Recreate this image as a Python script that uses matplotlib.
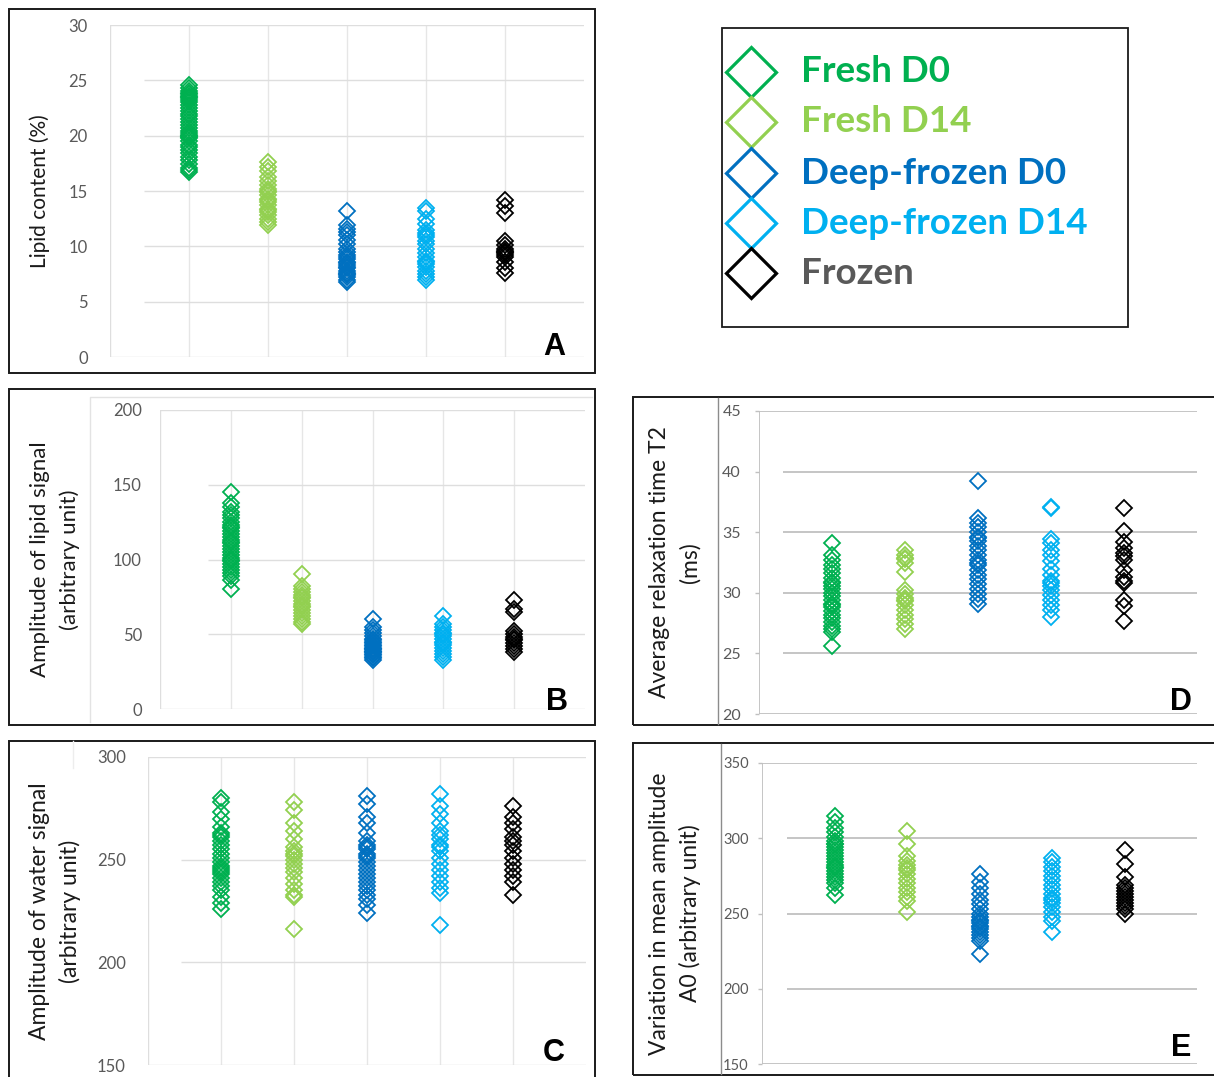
import numpy as np
import matplotlib
matplotlib.use('Agg')
import matplotlib.pyplot as plt
from matplotlib.patches import Rectangle
from matplotlib.lines import Line2D

plt.rcParams['font.family'] = ['Lato', 'DejaVu Sans']

W, H = 1214, 1077

# ------------------------------------------------------------
# DATA
# ------------------------------------------------------------
groups = ["Fresh D0", "Fresh D14", "Deep-frozen D0", "Deep-frozen D14", "Frozen"]
marker_colors = ["#00B050", "#92D050", "#0070C0", "#00B0F0", "#000000"]
text_colors = ["#00B050", "#92D050", "#0070C0", "#00B0F0", "#595959"]

# A - lipid content (%)
lipid_fresh_d0 = [24.6, 24.3, 24.0, 23.8, 23.6, 23.4, 23.2, 23.0, 22.8, 22.5, 22.2, 22.0,
                  21.8, 21.5, 21.2, 21.0, 20.7, 20.4, 20.2, 20.0, 19.8, 19.5, 19.2, 19.0,
                  18.7, 18.4, 18.1, 17.8, 17.4, 17.1, 16.9, 16.7, 23.5, 23.9, 20.1, 19.9]
lipid_fresh_d14 = [17.6, 17.2, 16.8, 16.3, 15.9, 15.5, 15.2, 14.9, 14.6, 14.3, 14.0, 13.7,
                   13.4, 13.1, 12.8, 12.5, 12.2, 11.9, 15.0, 14.2, 13.3]
lipid_deep_d0 = [13.2, 11.9, 11.6, 11.3, 11.0, 10.6, 10.2, 9.8, 9.5, 9.2, 8.9, 8.6, 8.3,
                 8.0, 7.8, 7.6, 7.4, 7.2, 7.0, 6.8, 8.1, 8.5, 9.0, 7.5]
lipid_deep_d14 = [13.5, 13.2, 12.5, 12.0, 11.5, 11.2, 10.8, 10.5, 10.2, 9.8, 9.4, 9.0,
                  8.7, 8.4, 8.1, 7.8, 7.5, 7.2, 7.0, 11.0, 8.6]
lipid_frozen = [14.2, 13.6, 13.0, 10.5, 10.1, 9.8, 9.6, 9.4, 9.2, 9.0, 8.6, 8.0, 7.6, 9.5]

# B - amplitude of lipid signal
amp_fresh_d0 = [145, 138, 135, 132, 130, 128, 125, 123, 121, 119, 117, 115, 113, 111, 109,
                107, 105, 103, 101, 99, 97, 95, 93, 91, 89, 86, 80, 122, 112, 100]
amp_fresh_d14 = [90, 82, 80, 78, 76, 74, 72, 70, 68, 66, 64, 62, 60, 58, 57, 75, 69]
amp_deep_d0 = [60, 55, 53, 51, 49, 47, 45, 44, 43, 42, 41, 40, 39, 38, 37, 36, 35, 34, 33,
               46, 40, 38]
amp_deep_d14 = [62, 57, 55, 53, 51, 49, 47, 45, 43, 41, 39, 37, 35, 33, 50, 44]
amp_frozen = [73, 67, 65, 52, 50, 48, 46, 44, 42, 40, 38, 47]

# C - amplitude of water signal
water_fresh_d0 = [280, 278, 273, 270, 266, 263, 261, 259, 257, 255, 253, 251, 249, 247,
                  245, 243, 241, 239, 237, 235, 232, 229, 226, 262, 246, 244]
water_fresh_d14 = [278, 274, 268, 264, 260, 256, 254, 252, 250, 248, 246, 244, 241, 238,
                   235, 232, 216, 253, 233]
water_deep_d0 = [281, 277, 271, 268, 263, 259, 257, 255, 253, 251, 249, 247, 245, 243,
                 241, 239, 237, 235, 233, 231, 228, 224, 256, 252]
water_deep_d14 = [282, 276, 272, 268, 264, 260, 257, 254, 251, 248, 245, 242, 239, 236,
                  234, 218, 256, 262]
water_frozen = [276, 271, 268, 265, 261, 259, 257, 254, 251, 248, 245, 242, 239, 233]

# D - average relaxation time T2 (ms)
t2_fresh_d0 = [34.1, 33.1, 32.7, 32.3, 32.0, 31.6, 31.2, 30.9, 30.6, 30.3, 30.0, 29.7,
               29.4, 29.1, 28.8, 28.5, 28.2, 27.9, 27.6, 27.3, 27.0, 26.8, 25.6, 30.8, 29.0]
t2_fresh_d14 = [33.5, 33.1, 32.8, 32.5, 31.7, 30.2, 29.9, 29.6, 29.3, 29.0, 28.6, 28.2,
                27.8, 27.4, 27.0, 32.9, 29.4]
t2_deep_d0 = [39.2, 36.2, 35.8, 35.4, 35.0, 34.6, 34.3, 33.9, 33.5, 33.1, 32.7, 32.3,
              31.9, 31.5, 31.1, 30.7, 30.3, 29.9, 29.5, 29.1, 34.5, 32.5]
t2_deep_d14 = [37.1, 37.0, 34.4, 34.1, 33.5, 33.1, 32.6, 32.0, 31.5, 31.0, 30.6, 30.2,
               29.8, 29.4, 29.0, 28.6, 28.0, 30.8]
t2_frozen = [37.0, 35.1, 34.2, 33.7, 33.3, 33.0, 32.7, 31.9, 31.3, 31.0, 30.8, 29.4, 28.9, 27.7]

# E - variation in mean amplitude A0
a0_fresh_d0 = [315, 311, 307, 304, 301, 298, 296, 294, 292, 290, 288, 286, 284, 282, 280,
               278, 276, 274, 272, 270, 267, 262, 296, 281]
a0_fresh_d14 = [305, 296, 288, 285, 282, 279, 276, 273, 270, 267, 264, 261, 258, 251, 280]
a0_deep_d0 = [276, 271, 267, 263, 259, 256, 253, 250, 248, 246, 244, 242, 240, 238, 236,
              234, 232, 223, 245, 241]
a0_deep_d14 = [287, 284, 281, 278, 275, 272, 269, 266, 263, 260, 257, 254, 251, 248, 245,
               238, 259]
a0_frozen = [292, 283, 274, 269, 267, 265, 263, 261, 259, 257, 255, 253, 250]

ticks_a = [0, 5, 10, 15, 20, 25, 30]
ticks_b = [0, 50, 100, 150, 200]
ticks_c = [150, 200, 250, 300]
ticks_d = [20, 25, 30, 35, 40, 45]
ticks_e = [150, 200, 250, 300, 350]


# ============================================================
# HELPERS
# ============================================================
def box(l, t, r, b):
    return [l / W, 1 - b / H, (r - l) / W, (b - t) / H]


def fx(x):
    return x / W


def fy(y):
    return 1 - y / H


def frame(fig, l, t, r, b, color="#1a1a1a", lw=1.4):
    fig.patches.append(Rectangle((fx(l), fy(b)), (r - l) / W, (b - t) / H, fill=False,
                                 edgecolor=color, linewidth=lw, transform=fig.transFigure))


def fline(fig, xs, ys, color, lw=1.0):
    fig.add_artist(Line2D([fx(x) for x in xs], [fy(y) for y in ys], color=color,
                          linewidth=lw, transform=fig.transFigure))


def panel(fig, rect, data, ticks, grid_start, style, ylabel, label_x, letter, letter_xy,
          pad=12, fs=12, lfs=14.5):
    ax = fig.add_axes(box(*rect))
    ax.set_xlim(0, 6)
    ax.set_ylim(ticks[0], ticks[-1])
    for s in ax.spines.values():
        s.set_visible(False)
    ax.set_facecolor("none")

    if style == "light":
        gcol, glw = "#DEDEDE", 1.0
        for xc in range(1, 6):
            ax.axvline(xc, color="#E6E6E6", lw=1.0, zorder=0)
        ax.axvline(0, color=gcol, lw=glw, zorder=0)
        ax.tick_params(axis='y', length=0, pad=pad)
    else:
        gcol, glw = "#C0C0C0", 1.3
        ax.axvline(0, color=gcol, lw=glw, zorder=0)
        ax.tick_params(axis='y', length=3, width=1, color=gcol, pad=pad - 3)

    for k, tv in enumerate(ticks):
        start = 0 if k in (0, len(ticks) - 1) else grid_start
        ax.hlines(tv, start, 6, color=gcol, lw=glw, zorder=0)

    for i, vals in enumerate(data):
        ax.plot(np.full(len(vals), i + 1), vals, 'D', mfc='none', mec=marker_colors[i],
                ms=8, mew=1.3, zorder=3, clip_on=False)

    ax.set_xticks([])
    ax.set_yticks(ticks)
    ax.set_yticklabels([str(t) for t in ticks], fontsize=fs, color="#595959")

    for text, x in zip(ylabel, label_x):
        fig.text(fx(x), fy((rect[1] + rect[3]) / 2), text, rotation=90, ha='center',
                 va='center', fontsize=lfs, color="#1a1a1a")

    fig.text(fx(letter_xy[0]), fy(letter_xy[1]), letter, fontsize=22, fontweight='bold',
             family='Liberation Sans', ha='center', va='center', color="black")
    return ax


# ============================================================
# FIGURE
# ============================================================
fig = plt.figure(figsize=(W / 100, H / 100), dpi=100)

# panel frames
frame(fig, 9, 9, 595, 373)
frame(fig, 9, 389, 595, 725)
frame(fig, 9, 741, 595, 1085)
frame(fig, 633, 397, 1220, 725)
frame(fig, 633, 743, 1220, 1075)

# inner chart-area borders
fline(fig, [90, 90, 592], [722, 397, 397], "#E3E3E3", 1.0)
fline(fig, [73, 73], [741, 768], "#EDEDED", 1.0)
fline(fig, [718, 718], [398, 724], "#8C8C8C", 1.0)
fline(fig, [721, 721], [744, 1074], "#8C8C8C", 1.0)

panel(fig, (110, 25, 584, 357),
      [lipid_fresh_d0, lipid_fresh_d14, lipid_deep_d0, lipid_deep_d14, lipid_frozen],
      ticks_a, 0.43, "light", ["Lipid content (%)"], [40], "A", (554, 347), pad=16, lfs=15)

panel(fig, (160, 410, 585, 709),
      [amp_fresh_d0, amp_fresh_d14, amp_deep_d0, amp_deep_d14, amp_frozen],
      ticks_b, 0.68, "light", ["Amplitude of lipid signal", "(arbitrary unit)"], [40, 70],
      "B", (557, 702), pad=13, lfs=16)

panel(fig, (148, 757, 586, 1065),
      [water_fresh_d0, water_fresh_d14, water_deep_d0, water_deep_d14, water_frozen],
      ticks_c, 0.45, "light", ["Amplitude of water signal", "(arbitrary unit)"], [40, 70],
      "C", (554, 1053), pad=16, lfs=16.5)

panel(fig, (759, 411, 1197, 714),
      [t2_fresh_d0, t2_fresh_d14, t2_deep_d0, t2_deep_d14, t2_frozen],
      ticks_d, 0.33, "dark", ["Average relaxation time T2", "(ms)"], [660, 690],
      "D", (1181, 702), pad=13, fs=11.5, lfs=16.5)

panel(fig, (762, 763, 1197, 1064),
      [a0_fresh_d0, a0_fresh_d14, a0_deep_d0, a0_deep_d14, a0_frozen],
      ticks_e, 0.35, "dark", ["Variation in mean amplitude", "A0 (arbitrary unit)"], [660, 690],
      "E", (1181, 1048), pad=9.5, fs=10.5, lfs=16.5)

# legend
frame(fig, 722, 28, 1128, 327, color="#1a1a1a", lw=1.3)
lax = fig.add_axes(box(722, 28, 1128, 327))
lax.set_xlim(722, 1128)
lax.set_ylim(327, 28)
lax.axis('off')
row_y = [72, 122, 173, 223, 273]
for name, mc, tc, yy in zip(groups, marker_colors, text_colors, row_y):
    lax.plot([751], [yy], 'D', mfc='none', mec=mc, ms=25, mew=2.3, clip_on=False)
    lax.text(801, yy, name, fontsize=26.5, fontweight='bold', color=tc, ha='left', va='center')

plt.savefig('out.png', dpi=100)
